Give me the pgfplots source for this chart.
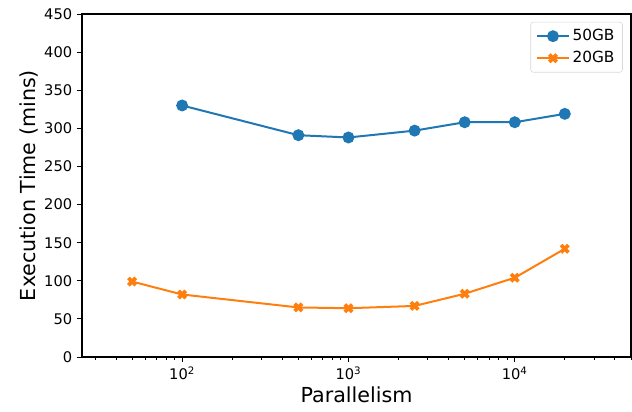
\documentclass[border=0pt]{standalone}
\usepackage{fontspec}
\setmainfont{DejaVu Sans}
\usepackage{pgfplots}
\pgfplotsset{compat=1.18}
\definecolor{mplblue}{HTML}{1F77B4}
\definecolor{mplorange}{HTML}{FF7F0E}
\begin{document}
\begin{tikzpicture}
\path[use as bounding box] (-61.5pt,-40.5pt) rectangle (412.5pt,267.75pt);
\begin{axis}[
  at={(0,0)}, anchor=south west,
  scale only axis, width=411.75pt, height=257.25pt,
  xmode=log, xmin=25, xmax=50000,
  ymin=0, ymax=450, ytick={0,50,...,450},
  xtick={100,1000,10000},
  xticklabels={10\textsuperscript{2},10\textsuperscript{3},10\textsuperscript{4}},
  minor xtick={30,40,50,60,70,80,90,200,300,400,500,600,700,800,900,
               2000,3000,4000,5000,6000,7000,8000,9000,20000,30000,40000,50000},
  tick align=outside, tick pos=left,
  major tick length=3.8pt, minor tick length=2.2pt,
  every tick/.style={black, line width=0.6pt},
  axis line style={line width=0.8pt},
  /pgf/number format/assume math mode=true,
  tick label style={font=\fontsize{11}{13}\selectfont},
  xlabel={Parallelism}, ylabel={Execution Time (mins)},
  label style={font=\fontsize{15.5}{18}\selectfont},
  xlabel style={yshift=2pt},
  ylabel style={yshift=-2pt},
  legend style={at={(0.985,0.977)}, anchor=north east, draw=black!15,
    rounded corners=2pt, font=\fontsize{11.5}{13.5}\selectfont,
    row sep=2.5pt, inner xsep=4pt, inner ysep=3.5pt},
  legend cell align=left,
  legend image code/.code={%
    \draw[mark repeat=2, mark phase=2, #1] plot coordinates {(0cm,0cm) (0.42cm,0cm) (0.84cm,0cm)};},
]
\addplot[mplblue, line width=1.5pt, mark=*, mark size=3.7pt, mark options={solid}]
  coordinates {(100,330)(500,291)(1000,288)(2500,297)(5000,308)(10000,308)(20000,319)};
\addlegendentry{50GB}
\addplot[mplorange, line width=1.5pt, mark=x, mark size=3.9pt, mark options={solid, line width=2.8pt}]
  coordinates {(50,99)(100,82)(500,65)(1000,64)(2500,67)(5000,83)(10000,104)(20000,142)};
\addlegendentry{20GB}
\end{axis}
\end{tikzpicture}
\end{document}
